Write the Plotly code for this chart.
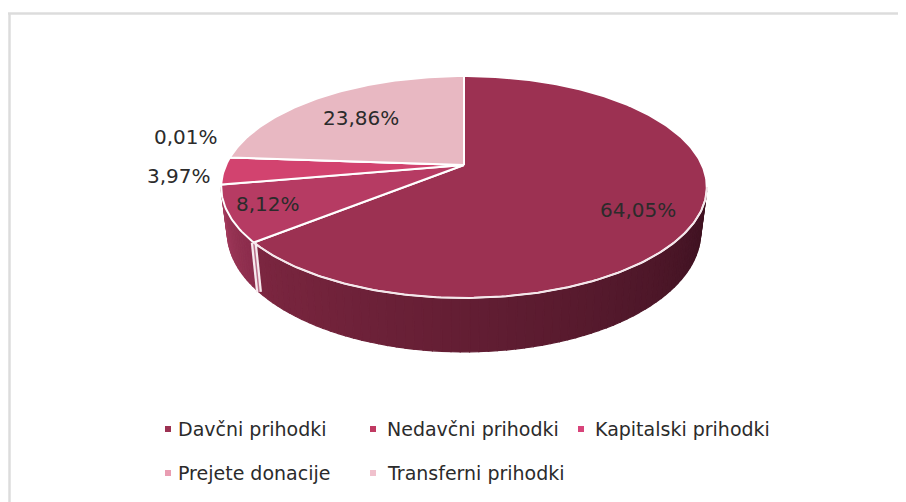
import numpy as np
import plotly.graph_objects as go

labels = ["Davčni prihodki", "Nedavčni prihodki", "Kapitalski prihodki", "Prejete donacije", "Transferni prihodki"]
values = [64.05, 8.12, 3.97, 0.01, 23.86]
value_text = ["64,05%", "8,12%", "3,97%", "0,01%", "23,86%"]
top_colors = ["#9c3152", "#b63b63", "#d2436f", "#e58fa8", "#e8b8c2"]
key_colors = ["#9c3152", "#c03a62", "#d8447a", "#e99db2", "#f0c1cd"]
label_pos = [(638, 210), (268, 204), (179, 176), (186, 137), (361, 118)]
key_pos = [(168, 429), (373, 429), (581, 429), (168, 473), (373, 473)]
text_x = [176, 385, 593, 176, 385]

CX, CY = 464, 165
A, B, K = 238, 106.6, 0.198
DEPTH, SHRINK = 43.3, 0.975
LABEL_FONT = dict(family="DejaVu Sans", size=20, color="#2b2b2b")
KEY_FONT = dict(family="DejaVu Sans", size=19, color="#2b2b2b")


def project(theta, r=1.0, low=False):
    u, v = r * np.sin(theta), r * np.cos(theta)
    w = 1 + K * v
    x, y = A * u / w, -B * v / w
    if low:
        return CX + SHRINK * x, CY + y + DEPTH / w
    return CX + x, CY + y


def mix(c1, c2, t):
    a = [int(c1[i:i + 2], 16) for i in (1, 3, 5)]
    b = [int(c2[i:i + 2], 16) for i in (1, 3, 5)]
    return "rgb(%d,%d,%d)" % tuple(round(p + (q - p) * t) for p, q in zip(a, b))


def poly(x, y, color, line=None, width=0):
    fig.add_trace(go.Scatter(x=x, y=y, mode="lines", fill="toself", fillcolor=color,
                             line=dict(color=line or color, width=width if line else 1.2),
                             hoverinfo="skip", showlegend=False))


fig = go.Figure()
cum = np.cumsum([0] + values) / sum(values) * 2 * np.pi
side_start = np.arccos(-K)
side_end = 2 * np.pi - np.arccos(-K)


def wall(t0, t1, c0, c1, n):
    edges = np.linspace(t0, t1, n + 1)
    for i in range(n):
        th = np.array([edges[i], edges[i + 1]])
        xt, yt = project(th)
        xb, yb = project(th[::-1], low=True)
        poly(np.r_[xt, xb, xt[0]], np.r_[yt, yb, yt[0]], mix(c0, c1, i / max(n - 1, 1)))


# outer walls, computed from the cumulative shares
wall(side_start, cum[1], "#3c1120", "#7c2640", 70)
wall(cum[1], side_end, "#8a2c4b", "#a23a5c", 20)

# white seam on the wall at the first cut
xs, ys = project(np.array([cum[1]]))
xl, yl = project(np.array([cum[1]]), low=True)
fig.add_trace(go.Scatter(x=[xs[0], xl[0]], y=[ys[0], yl[0]], mode="lines",
                         line=dict(color="#f6e9ed", width=6), hoverinfo="skip", showlegend=False))
fig.add_trace(go.Scatter(x=[xs[0], xl[0]], y=[ys[0], yl[0]], mode="lines",
                         line=dict(color="#b9708a", width=1.5), hoverinfo="skip", showlegend=False))

# top faces
for i in range(len(values)):
    th = np.linspace(cum[i], cum[i + 1], max(int(values[i] * 4), 2))
    x, y = project(th)
    poly(np.r_[CX, x, CX], np.r_[CY, y, CY], top_colors[i], "#ffffff", 2)

# outline of the near rim
th = np.linspace(side_start, cum[1], 80)
x, y = project(th)
fig.add_trace(go.Scatter(x=x, y=y, mode="lines", line=dict(color="#f4e6ea", width=1.5),
                         hoverinfo="skip", showlegend=False))

# legend keys
for (kx, ky), c, name in zip(key_pos, key_colors, labels):
    fig.add_trace(go.Scatter(x=[kx], y=[ky], mode="markers", name=name, showlegend=False,
                             marker=dict(symbol="square", size=6, color=c), hoverinfo="name"))

ann = []
for (x, y), t in zip(label_pos, value_text):
    ann.append(dict(x=x, y=y, text=t, showarrow=False, xref="x", yref="y", font=LABEL_FONT))
for (kx, ky), tx, name in zip(key_pos, text_x, labels):
    ann.append(dict(x=tx, y=ky, text=name, showarrow=False, xanchor="left", xref="x", yref="y", font=KEY_FONT))

# The page's default 8 px body margin offsets the figure, so the axes start at 8
fig.update_layout(
    width=898, height=494, margin=dict(l=0, r=0, t=0, b=0),
    paper_bgcolor="#ffffff", plot_bgcolor="#ffffff", showlegend=False,
    xaxis=dict(range=[8, 906], visible=False, fixedrange=True),
    yaxis=dict(range=[502, 8], visible=False, fixedrange=True),
    annotations=ann,
    shapes=[
        dict(type="line", xref="x", yref="y", x0=8, x1=906, y0=13.5, y1=13.5, line=dict(color="#dcdcdc", width=2.5)),
        dict(type="line", xref="x", yref="y", x0=9.5, x1=9.5, y0=13, y1=502, line=dict(color="#dcdcdc", width=2.5)),
    ],
)
fig.write_html("out.html")
